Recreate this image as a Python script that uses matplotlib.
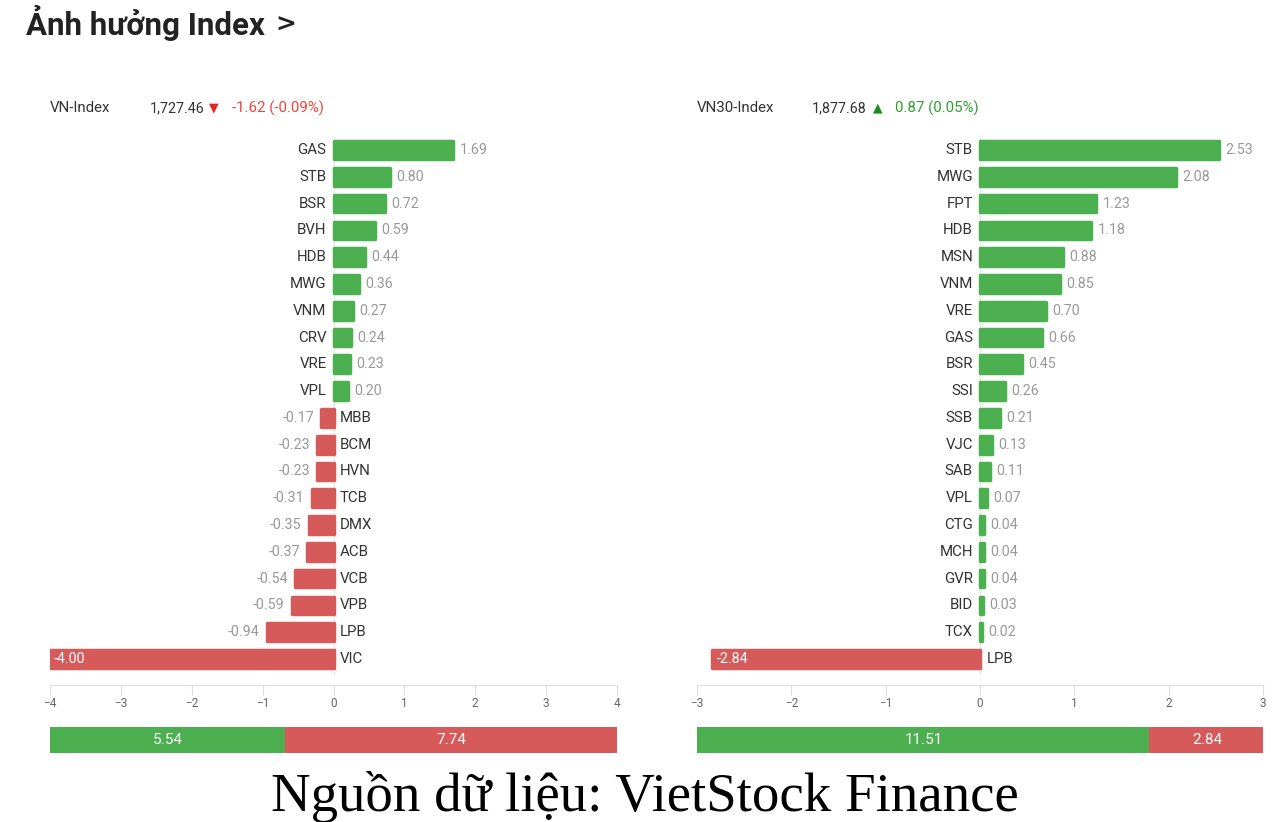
import matplotlib
matplotlib.use("Agg")
import matplotlib.pyplot as plt

# ---------------- data ----------------
left_title = "VN-Index"
left_price = "1,727.46"
left_change = "-1.62 (-0.09%)"
left_codes = ["GAS", "STB", "BSR", "BVH", "HDB", "MWG", "VNM", "CRV", "VRE", "VPL",
              "MBB", "BCM", "HVN", "TCB", "DMX", "ACB", "VCB", "VPB", "LPB", "VIC"]
left_values = [1.69, 0.80, 0.72, 0.59, 0.44, 0.36, 0.27, 0.24, 0.23, 0.20,
               -0.17, -0.23, -0.23, -0.31, -0.35, -0.37, -0.54, -0.59, -0.94, -4.00]
left_pos_total = 5.54
left_neg_total = 7.74
left_ticks = [-4, -3, -2, -1, 0, 1, 2, 3, 4]

right_title = "VN30-Index"
right_price = "1,877.68"
right_change = "0.87 (0.05%)"
right_codes = ["STB", "MWG", "FPT", "HDB", "MSN", "VNM", "VRE", "GAS", "BSR", "SSI",
               "SSB", "VJC", "SAB", "VPL", "CTG", "MCH", "GVR", "BID", "TCX", "LPB"]
right_values = [2.53, 2.08, 1.23, 1.18, 0.88, 0.85, 0.70, 0.66, 0.45, 0.26,
                0.21, 0.13, 0.11, 0.07, 0.04, 0.04, 0.04, 0.03, 0.02, -2.84]
right_pos_total = 11.51
right_neg_total = 2.84
right_ticks = [-3, -2, -1, 0, 1, 2, 3]

GREEN = "#4CAF50"
RED = "#D65A5A"
DARK = "#333333"
GRAY = "#999999"
LINE = "#DDDDDD"

W, H = 1284, 822
plt.rcParams['font.family'] = ['Roboto', 'DejaVu Sans']
fig = plt.figure(figsize=(W / 100, H / 100), dpi=100)
fig.patch.set_facecolor("white")


def fx(px):
    return px / W


def fy(py):
    return 1 - py / H


def panel(x0, x1, codes, values, lim, ticks, pos_total, neg_total,
          title, price, price_x):
    step = (659 - 150) / (len(codes) - 1)
    top_px = 150 - step / 2
    bot_px = 685
    ax = fig.add_axes([fx(x0), fy(bot_px), fx(x1 - x0), (bot_px - top_px) / H])
    n = len(codes)
    ymax = (n - 1) + (bot_px - 659) / step
    ax.set_xlim(-lim, lim)
    ax.set_ylim(ymax, -0.5)
    ys = list(range(n))
    colors = [GREEN if v >= 0 else RED for v in values]
    ax.barh(ys, values, height=0.66, color=colors, edgecolor=colors,
            linewidth=2.5, joinstyle="round", zorder=3)
    ax.plot([0, 0], [-0.5, n - 0.45], color="#E6E6E6", lw=1, zorder=1)
    for y, c, v in zip(ys, codes, values):
        if v >= 0:
            ax.annotate(c, (0, y), xytext=(-5, 0), textcoords="offset points",
                        ha="right", va="center", fontsize=10.8, color=DARK)
            ax.annotate(f"{v:.2f}", (v, y), xytext=(4.5, 0), textcoords="offset points",
                        ha="left", va="center", fontsize=10.3, color=GRAY)
        else:
            ax.annotate(c, (0, y), xytext=(4.5, 0), textcoords="offset points",
                        ha="left", va="center", fontsize=10.8, color=DARK)
            if abs(v) > lim * 0.8:
                ax.annotate(f"{v:.2f}", (v, y), xytext=(3, 0), textcoords="offset points",
                            ha="left", va="center", fontsize=10.3, color="white", zorder=5)
            else:
                ax.annotate(f"{v:.2f}", (v, y), xytext=(-5, 0), textcoords="offset points",
                            ha="right", va="center", fontsize=10.3, color=GRAY)
    for s in ["top", "left", "right"]:
        ax.spines[s].set_visible(False)
    ax.spines["bottom"].set_color(LINE)
    ax.set_yticks([])
    ax.set_xticks(ticks)
    ax.set_xticklabels([str(t).replace("-", "\u2212") for t in ticks])
    ax.tick_params(axis="x", length=7.5, color=LINE, labelsize=8.5, labelcolor="#666666", pad=1)

    # bottom total bar
    bx = fig.add_axes([fx(x0), fy(753), fx(x1 - x0), 26 / H])
    total = pos_total + neg_total
    bx.set_xlim(0, total)
    bx.set_ylim(0, 1)
    bx.axis("off")
    bx.barh([0.5], [pos_total], left=[0], height=0.86, color=GREEN, edgecolor=GREEN,
            linewidth=3, joinstyle="round")
    bx.barh([0.5], [neg_total], left=[pos_total], height=0.86, color=RED, edgecolor=RED,
            linewidth=3, joinstyle="round")
    bx.text(pos_total / 2, 0.5, f"{pos_total:.2f}", ha="center", va="center",
            color="white", fontsize=11)
    bx.text(pos_total + neg_total / 2, 0.5, f"{neg_total:.2f}", ha="center", va="center",
            color="white", fontsize=11)

    # header
    hy = fy(108)
    fig.text(fx(x0), hy, title, ha="left", va="center", fontsize=10.8, color=DARK)
    fig.text(fx(price_x), hy, price, ha="left", va="center", fontsize=10.3, color=DARK)


panel(50, 617, left_codes, left_values, 4, left_ticks, left_pos_total, left_neg_total,
      left_title, left_price, 150)
panel(697, 1263, right_codes, right_values, 3, right_ticks, right_pos_total, right_neg_total,
      right_title, right_price, 812)

# header arrows and changes
fig.text(fx(209), fy(108), "\u25BC", ha="left", va="center", fontsize=9,
         color="#E8231E", family=["DejaVu Sans"])
fig.text(fx(232), fy(108), left_change, ha="left", va="center", fontsize=10.8, color="#F0443A")
fig.text(fx(873), fy(108), "\u25B2", ha="left", va="center", fontsize=9,
         color="#1E8C1E", family=["DejaVu Sans"])
fig.text(fx(895), fy(108), right_change, ha="left", va="center", fontsize=10.8, color="#2EA02E")

# title
fig.text(fx(26), fy(23), "Ảnh hưởng Index", ha="left", va="center", fontsize=22.5,
         fontweight="bold", color="#222222")
fig.text(fx(275), fy(25), ">", ha="left", va="center", fontsize=18, fontweight="bold",
         color="#222222", family=["DejaVu Sans"])

# source caption
fig.text(fx(645), fy(797), "Nguồn dữ liệu: VietStock Finance", ha="center", va="center",
         fontsize=39.5, color="black", family=["Liberation Serif", "DejaVu Serif"])

fig.savefig("out.png", dpi=100, facecolor="white")
